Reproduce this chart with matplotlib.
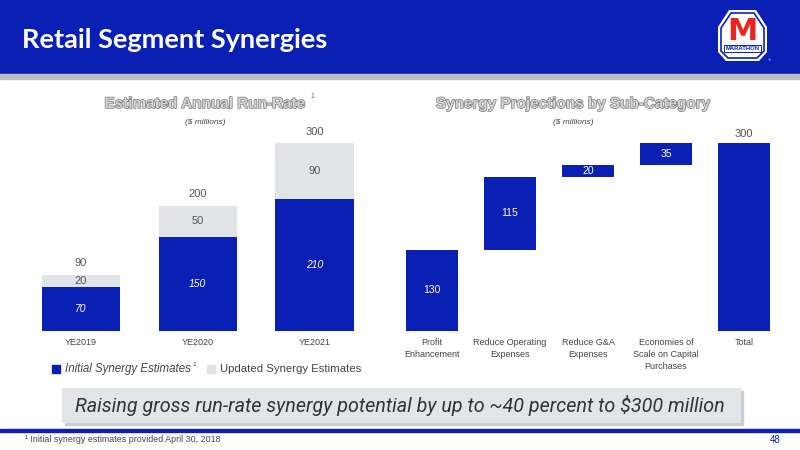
import matplotlib
matplotlib.use("Agg")
import matplotlib.pyplot as plt
import matplotlib.patheffects as pe
from matplotlib.patches import Rectangle, Polygon

# ---- data ----
years = ['YE2019', 'YE2020', 'YE2021']
initial = [70, 150, 210]
updated = [20, 50, 90]

categories = ['Profit\nEnhancement', 'Reduce Operating\nExpenses', 'Reduce G&A\nExpenses',
              'Economies of\nScale on Capital\nPurchases', 'Total']
synergy = [130, 115, 20, 35]

BLUE = '#0A20B4'
GREY = '#E1E4E6'
TXT = '#444444'

W, H = 800, 450
fig = plt.figure(figsize=(8, 4.5), dpi=100)
plt.rcParams['font.family'] = ['Liberation Sans', 'DejaVu Sans']

# background axes in pixel coords (y down)
bg = fig.add_axes([0, 0, 1, 1])
bg.set_xlim(0, W)
bg.set_ylim(H, 0)
bg.axis('off')

# header band
bg.add_patch(Rectangle((0, 0), W, 73, color=BLUE, zorder=1))
bg.add_patch(Rectangle((0, 74), W, 5, color='#B8BEC4', zorder=1))
bg.text(22, 40, 'Retail Segment Synergies', color='white', fontsize=19.5, fontweight='bold',
        family='Lato', va='center', ha='left')

# logo
bg.add_patch(Polygon([(729, 10), (756, 10), (767, 27), (767, 52), (759, 61), (726, 61), (718, 52), (718, 27)],
                     closed=True, fc='white', ec='none', zorder=2))
bg.add_patch(Polygon([(731, 13), (754, 13), (764, 28), (764, 51), (757, 58), (728, 58), (721, 51), (721, 28)],
                     closed=True, fc='white', ec=BLUE, lw=1.2, zorder=3))
bg.text(742.5, 31, 'M', color='#E8261E', fontsize=22, fontweight='bold', ha='center', va='center',
        family='DejaVu Sans', zorder=4)
bg.text(742.5, 48.5, 'MARATHON', color=BLUE, fontsize=4.2, fontweight='bold', ha='center', va='center', zorder=4,
        bbox=dict(boxstyle='square,pad=0.2', fc='white', ec=BLUE, lw=0.7))
bg.text(768, 60, '®', color='white', fontsize=3, ha='left', va='center')

# chart titles
outline = [pe.Stroke(linewidth=1.0, foreground='#7a7a7a'), pe.Normal()]
bg.text(205, 104, 'Estimated Annual Run-Rate', color='#d4d4d4', fontsize=11, fontweight='bold',
        ha='center', va='center', path_effects=outline)
bg.text(310, 97, '1', color='#666666', fontsize=5, ha='left', va='center')
bg.text(205, 123, '($ millions)', color=TXT, fontsize=6, style='italic', ha='center', va='center')
bg.text(573, 104, 'Synergy Projections by Sub-Category', color='#d4d4d4', fontsize=11, fontweight='bold',
        ha='center', va='center', path_effects=outline)
bg.text(573, 123, '($ millions)', color=TXT, fontsize=6, style='italic', ha='center', va='center')

# legend
bg.add_patch(Rectangle((52, 365), 8, 8, color=BLUE))
bg.text(65, 369, 'Initial Synergy Estimates', color=TXT, fontsize=8.3, style='italic', va='center')
bg.text(193, 364, '1', color=TXT, fontsize=4.5, style='italic', va='center')
bg.add_patch(Rectangle((207, 365), 8, 8, color=GREY))
bg.text(220, 369, 'Updated Synergy Estimates', color=TXT, fontsize=8.2, va='center')

# bottom message box
bg.add_patch(Rectangle((65, 391), 678, 34, color='#C9CDD1', zorder=1))
bg.add_patch(Rectangle((62, 388), 678, 34, color='#E2E5E8', zorder=2))
bg.text(400, 405, 'Raising gross run-rate synergy potential by up to ~40 percent to $300 million',
        color='#333333', fontsize=14.2, style='italic', family='Roboto', ha='center', va='center', zorder=3)

# footer
bg.add_patch(Rectangle((0, 429), W, 3, color=BLUE))
bg.text(25, 440, '¹ Initial synergy estimates provided April 30, 2018', color=TXT, fontsize=6.4, va='center')
bg.text(781, 440, '48', color=BLUE, fontsize=7, ha='right', va='center')


def chart_axes(px_left, px_right, px_top, px_base):
    return fig.add_axes([px_left / W, (H - px_base) / H, (px_right - px_left) / W, (px_base - px_top) / H])


# ---- left chart: stacked run-rate ----
ax1 = chart_axes(22.6, 372.9, 143, 331)
x = range(len(years))
ax1.bar(x, initial, width=0.67, color=BLUE)
ax1.bar(x, updated, width=0.67, bottom=initial, color=GREY)
for i in x:
    tot = initial[i] + updated[i]
    ax1.text(i, initial[i] / 2, str(initial[i]), color='white', fontsize=7.5, style='italic',
             ha='center', va='center')
    ax1.text(i, initial[i] + updated[i] / 2, str(updated[i]), color='#555555', fontsize=8,
             ha='center', va='center')
    ax1.text(i, tot + 10, str(tot), color='#555555', fontsize=8, ha='center', va='bottom')
ax1.set_xlim(-0.5, 2.5)
ax1.set_ylim(0, 300)
ax1.set_xticks(list(x))
ax1.set_xticklabels(years, color=TXT, fontsize=6.5)
ax1.tick_params(length=0, pad=5)
ax1.set_yticks([])
for s in ax1.spines.values():
    s.set_visible(False)
ax1.patch.set_alpha(0)

# ---- right chart: waterfall ----
ax2 = chart_axes(393, 783, 143, 331)
bottoms = []
run = 0
for v in synergy:
    bottoms.append(run)
    run += v
heights = synergy + [run]
bottoms = bottoms + [0]
xs = range(len(categories))
ax2.bar(xs, heights, bottom=bottoms, width=0.67, color=BLUE)
for i in range(len(synergy)):
    ax2.text(i, bottoms[i] + heights[i] / 2, str(heights[i]), color='white', fontsize=7.5,
             ha='center', va='center')
ax2.text(4, run + 6, str(run), color='#555555', fontsize=8, ha='center', va='bottom')
ax2.set_xlim(-0.5, 4.5)
ax2.set_ylim(0, 300)
ax2.set_xticks(list(xs))
ax2.set_xticklabels(categories, color=TXT, fontsize=6.5, linespacing=1.4, va='top')
ax2.tick_params(length=0, pad=5)
ax2.set_yticks([])
for s in ax2.spines.values():
    s.set_visible(False)
ax2.patch.set_alpha(0)

fig.savefig('out.png', dpi=100)
